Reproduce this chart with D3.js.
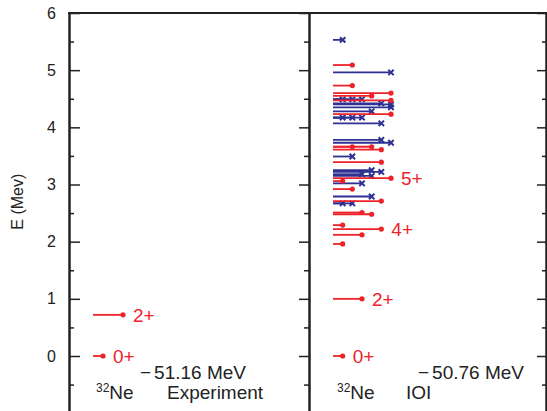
<!DOCTYPE html>
<html>
<head>
<meta charset="utf-8">
<script src="https://cdn.jsdelivr.net/npm/d3@7"></script>
<style>
  html, body { margin: 0; padding: 0; background: #fff; }
  svg { display: block; font-family: "Liberation Sans", Arial, Helvetica, sans-serif; }
</style>
</head>
<body>
<svg id="chart" width="547" height="411"></svg>
<script>
// ---- Data ----
// Experiment (32Ne)
const expEnergies = [0.0, 0.72];
const expSpins    = [0, 2];
const expLabels   = ["0+", "2+"];

// IOI calculation: positive parity levels (red, dots)
const ioiPosEnergies = [0.00, 1.00, 1.96, 2.12, 2.22, 2.29, 2.48, 2.51, 2.71, 2.92, 3.06, 3.11,
                        3.39, 3.61, 3.66, 3.66, 4.23, 4.47, 4.55, 4.60, 4.73, 5.09];
const ioiPosSpins    = [0, 2, 0, 2, 4, 0, 3, 2, 4, 1, 0, 5,
                        4, 4, 1, 3, 5, 5, 3, 5, 1, 1];
const ioiPosLabels   = ["0+", "2+", "", "", "4+", "", "", "", "", "", "", "5+",
                        "", "", "", "", "", "", "", "", "", ""];

// IOI calculation: negative parity levels (blue, crosses)
const ioiNegEnergies = [5.53, 4.96, 4.49, 4.49, 4.49, 4.42, 4.40, 4.35, 4.28, 4.17, 4.17, 4.17,
                        4.07, 3.78, 3.73, 3.49, 3.25, 3.22, 3.18, 3.15, 3.02, 2.79, 2.67, 2.67];
const ioiNegSpins    = [0, 5, 0, 1, 2, 4, 5, 5, 3, 0, 1, 2,
                        4, 4, 5, 1, 3, 4, 2, 3, 2, 3, 0, 1];

const yTicksMajor = [0, 1, 2, 3, 4, 5, 6];
const yTicksMinor = [-0.5, 0.5, 1.5, 2.5, 3.5, 4.5, 5.5];
const yTitle = "E (Mev)";
const expBinding = "51.16 MeV", ioiBinding = "50.76 MeV";
const nucleusMass = "32", nucleusName = "Ne";
const expName = "Experiment", ioiName = "IOI";

// ---- Layout ----
const W = 547, H = 411;
const xLeft = 69, xMid = 309, xRight = 546;
const yTop = 13;
const RED = "#ee2229", BLUE = "#2e3192", AX = "#222";

const svg = d3.select("#chart");
const y = d3.scaleLinear().domain([-0.962, 6]).range([H, yTop]);

// spin scale: line length grows with J
const xExp = d3.scaleLinear().domain([-1, 5]).range([93, 153]);
const xIoi = d3.scaleLinear().domain([-1, 5]).range([333, 391]);

function styleAxis(g, w) {
  g.select(".domain").attr("stroke", AX).attr("stroke-width", w);
  g.selectAll(".tick line").attr("stroke", AX).attr("stroke-width", 1.5);
}

// left axis
const gL = svg.append("g").attr("transform", `translate(${xLeft},0)`)
  .call(d3.axisLeft(y).tickValues(yTicksMajor).tickSize(-11).tickSizeOuter(0).tickPadding(13).tickFormat(d3.format("d")));
styleAxis(gL, 2);
gL.selectAll("text").attr("font-size", 16).attr("fill", AX).attr("font-family", "Liberation Sans, Arial, sans-serif");
const gLm = svg.append("g").attr("transform", `translate(${xLeft},0)`)
  .call(d3.axisLeft(y).tickValues(yTicksMinor).tickSize(-5).tickSizeOuter(0).tickFormat(""));
styleAxis(gLm, 2);

// middle divider
const gM = svg.append("g").attr("transform", `translate(${xMid},0)`)
  .call(d3.axisLeft(y).tickValues(yTicksMajor).tickSize(10).tickSizeOuter(0).tickFormat(""));
styleAxis(gM, 2);
const gMm = svg.append("g").attr("transform", `translate(${xMid},0)`)
  .call(d3.axisLeft(y).tickValues(yTicksMinor).tickSize(5).tickSizeOuter(0).tickFormat(""));
styleAxis(gMm, 2);

// right axis
const gR = svg.append("g").attr("transform", `translate(${xRight},0)`)
  .call(d3.axisLeft(y).tickValues(yTicksMajor).tickSize(9).tickSizeOuter(0).tickFormat(""));
styleAxis(gR, 2);
const gRm = svg.append("g").attr("transform", `translate(${xRight},0)`)
  .call(d3.axisLeft(y).tickValues(yTicksMinor).tickSize(4).tickSizeOuter(0).tickFormat(""));
styleAxis(gRm, 2);

// top border
svg.append("line").attr("x1", xLeft - 1).attr("x2", W).attr("y1", y(6)).attr("y2", y(6))
  .attr("stroke", AX).attr("stroke-width", 2);

// y title
svg.append("text").attr("transform", `translate(23,${y(2.7)}) rotate(-90)`)
  .attr("text-anchor", "middle").attr("font-size", 16).attr("fill", AX).text(yTitle);

// ---- Levels ----
function drawLevels(energies, spins, xs, color, marker, labels) {
  const data = energies.map((e, i) => ({E: e, J: spins[i], label: labels ? labels[i] : ""}));
  const g = svg.append("g");
  g.selectAll("line.lev").data(data).join("line")
    .attr("x1", xs(-1)).attr("x2", d => xs(d.J))
    .attr("y1", d => y(d.E)).attr("y2", d => y(d.E))
    .attr("stroke", color).attr("stroke-width", 1.8);
  if (marker === "dot") {
    g.selectAll("circle").data(data).join("circle")
      .attr("cx", d => xs(d.J)).attr("cy", d => y(d.E)).attr("r", 2.6).attr("fill", color);
  } else {
    const s = 2.7;
    g.selectAll("path.x").data(data).join("path")
      .attr("d", d => { const cx = xs(d.J), cy = y(d.E);
        return `M${cx-s},${cy-s}L${cx+s},${cy+s}M${cx-s},${cy+s}L${cx+s},${cy-s}`; })
      .attr("stroke", color).attr("stroke-width", 2).attr("fill", "none");
  }
  g.selectAll("text").data(data.filter(d => d.label)).join("text")
    .attr("x", d => xs(d.J) + 10).attr("y", d => y(d.E)).attr("dy", "0.36em")
    .attr("font-size", 19).attr("fill", color).text(d => d.label);
}

drawLevels(ioiNegEnergies, ioiNegSpins, xIoi, BLUE, "x", null);
drawLevels(ioiPosEnergies, ioiPosSpins, xIoi, RED, "dot", ioiPosLabels);
drawLevels(expEnergies, expSpins, xExp, RED, "dot", expLabels);

// ---- Captions ----
function caption(xBind, xNuc, xName, bind, name) {
  const t = svg.append("text").attr("x", xBind).attr("y", 379).attr("font-size", 19).attr("fill", AX);
  t.append("tspan").text("\u2212");
  t.append("tspan").attr("dx", 3).text(bind);
  const n = svg.append("text").attr("x", xNuc).attr("y", 399).attr("font-size", 19).attr("fill", AX);
  n.append("tspan").attr("font-size", 12).attr("dy", -7).text(nucleusMass);
  n.append("tspan").attr("dy", 7).text(nucleusName);
  svg.append("text").attr("x", xName).attr("y", 399).attr("font-size", 19).attr("fill", AX).text(name);
}
caption(140, 96, 167, expBinding, expName);
caption(418, 337, 406, ioiBinding, ioiName);
</script>
</body>
</html>
